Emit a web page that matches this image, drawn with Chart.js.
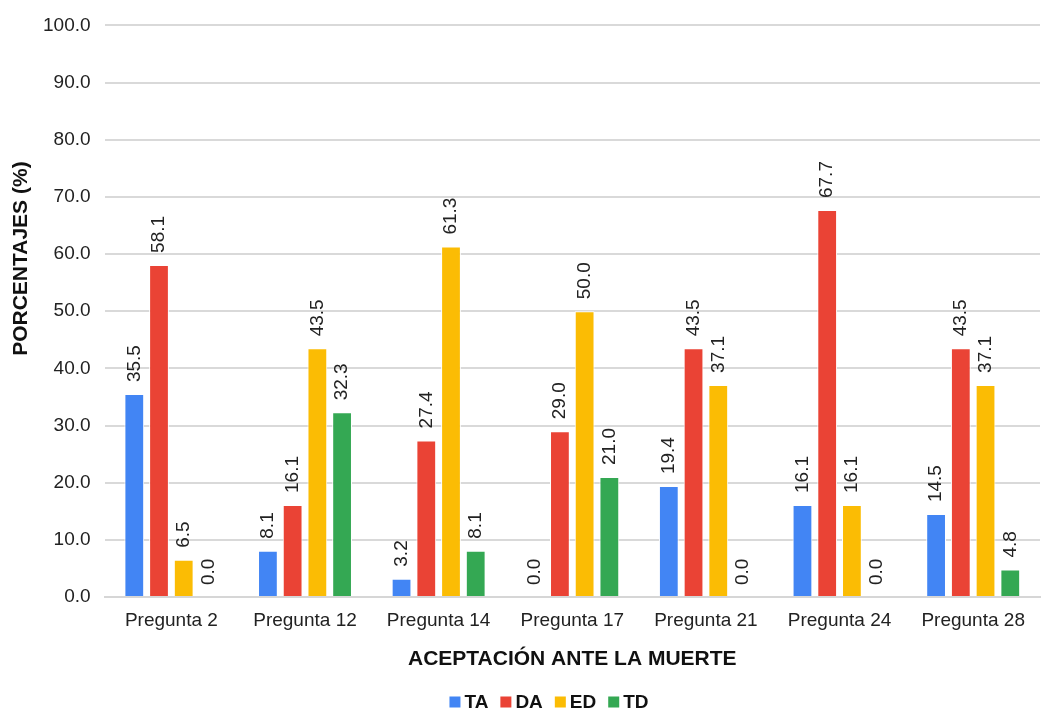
<!DOCTYPE html>
<html>
<head>
<meta charset="utf-8">
<script src="https://cdn.jsdelivr.net/npm/chart.js@4/dist/chart.umd.min.js"></script>
<style>
  html, body { margin: 0; padding: 0; background: #fff; }
  #wrap { width: 1046px; height: 709px; }
</style>
</head>
<body>
<div id="wrap"><canvas id="chart" width="1046" height="709"></canvas></div>
<script>
"use strict";

const categories = ["Pregunta 2", "Pregunta 12", "Pregunta 14", "Pregunta 17", "Pregunta 21", "Pregunta 24", "Pregunta 28"];
const seriesTA = [35.5, 8.1, 3.2, 0.0, 19.4, 16.1, 14.5];
const seriesDA = [58.1, 16.1, 27.4, 29.0, 43.5, 67.7, 43.5];
const seriesED = [6.5, 43.5, 61.3, 50.0, 37.1, 16.1, 37.1];
const seriesTD = [0.0, 32.3, 8.1, 21.0, 0.0, 0.0, 4.8];
const yTicks = [0, 10, 20, 30, 40, 50, 60, 70, 80, 90, 100];
const yTitle = "PORCENTAJES (%)";

const FONT = "'Liberation Sans', Arial, sans-serif";

// rotated value labels above each bar, the y axis title (sits above centre in the original)
// and a compact legend at the bottom
const extras = {
    id: "extras",
    afterDatasetsDraw(chart) {
        const c = chart.ctx;
        c.save();
        c.font = "19px " + FONT;
        c.fillStyle = "#222";
        c.textAlign = "left";
        c.textBaseline = "middle";
        chart.data.datasets.forEach(function (ds, i) {
            const meta = chart.getDatasetMeta(i);
            meta.data.forEach(function (bar, j) {
                c.save();
                c.translate(bar.x, bar.y - 12);
                c.rotate(-Math.PI / 2);
                c.fillText(ds.data[j].toFixed(1), 0, 0);
                c.restore();
            });
        });
        c.restore();

        const area = chart.chartArea;
        c.save();
        c.font = "bold 21px " + FONT;
        c.fillStyle = "#111";
        c.textAlign = "center";
        c.textBaseline = "middle";
        c.translate(21, area.top + (area.bottom - area.top) * 0.408);
        c.rotate(-Math.PI / 2);
        c.fillText(yTitle, 0, 0);
        c.restore();

        // legend
        c.save();
        c.font = "bold 19px " + FONT;
        c.textBaseline = "middle";
        c.textAlign = "left";
        const box = 11, gap = 4, between = 12;
        const items = chart.data.datasets.map(function (ds) {
            return { text: ds.label, color: ds.backgroundColor, w: c.measureText(ds.label).width };
        });
        let total = 0;
        items.forEach(function (it, k) {
            total += box + gap + it.w + (k ? between : 0);
        });
        const cy = chart.height - 6;
        let x = 549 - total / 2;
        items.forEach(function (it) {
            c.fillStyle = it.color;
            c.fillRect(x, cy - box / 2 - 1, box, box);
            x += box + gap;
            c.fillStyle = "#111";
            c.fillText(it.text, x, cy);
            x += it.w + between;
        });
        c.restore();
    }
};

function bars(label, data, color) {
    return {
        label: label,
        data: data,
        backgroundColor: color,
        borderColor: "#ffffff",
        borderWidth: 1,
        categoryPercentage: 0.74,
        barPercentage: 0.8
    };
}

new Chart(document.getElementById("chart"), {
    type: "bar",
    data: {
        labels: categories,
        datasets: [
            bars("TA", seriesTA, "#4285F4"),
            bars("DA", seriesDA, "#EA4335"),
            bars("ED", seriesED, "#FBBC04"),
            bars("TD", seriesTD, "#34A853")
        ]
    },
    options: {
        responsive: false,
        animation: false,
        layout: { padding: { left: 29, right: 6, top: 22, bottom: 29 } },
        plugins: {
            tooltip: { enabled: false },
            legend: { display: false }
        },
        scales: {
            x: {
                grid: { display: false },
                border: { color: "#d6d6d6", width: 2 },
                ticks: { color: "#222", font: { family: FONT, size: 19 }, padding: 4 },
                title: {
                    display: true,
                    text: "ACEPTACIÓN ANTE LA MUERTE",
                    color: "#111",
                    font: { family: FONT, size: 21, weight: "bold" },
                    padding: { top: 11, bottom: 8 }
                }
            },
            y: {
                min: 0,
                max: 100,
                afterBuildTicks: function (axis) {
                    axis.ticks = yTicks.map(function (v) { return { value: v }; });
                },
                grid: { color: "#d9d9d9", lineWidth: 2, drawTicks: false },
                border: { display: false },
                ticks: {
                    color: "#222",
                    font: { family: FONT, size: 19 },
                    padding: 14,
                    callback: function (v) { return Number(v).toFixed(1); }
                }
            }
        }
    },
    plugins: [extras]
});
</script>
</body>
</html>
